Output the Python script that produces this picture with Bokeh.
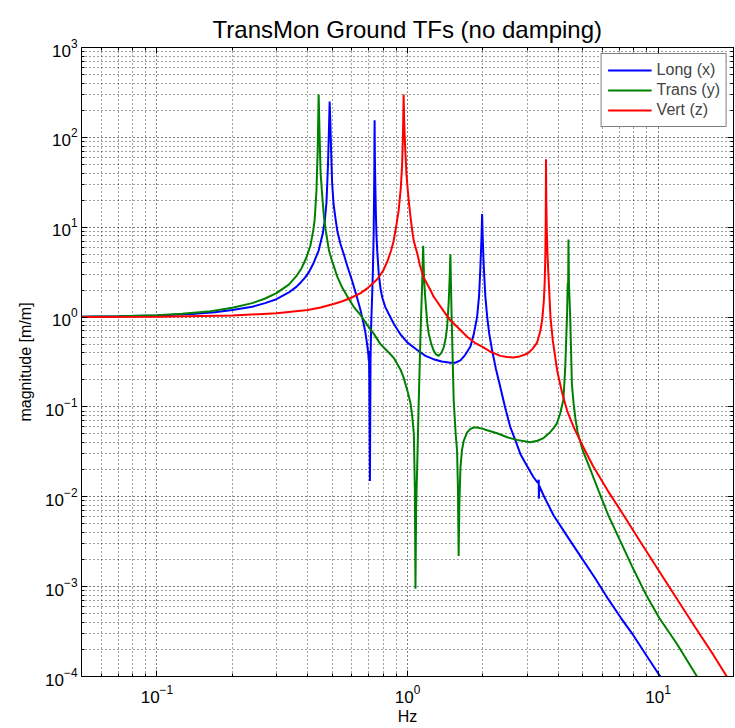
from bokeh.plotting import figure
from bokeh.models import Range1d, LogAxis, FixedTicker, LogTickFormatter
from bokeh.embed import file_html
from bokeh.resources import INLINE

# ---------------- data ----------------
long_f = [0.05, 0.07, 0.1, 0.138, 0.17, 0.2, 0.24, 0.27, 0.3, 0.336, 0.36, 0.375, 0.39,
          0.403, 0.422, 0.442, 0.459, 0.468, 0.475, 0.481, 0.485, 0.489, 0.492, 0.495,
          0.5, 0.507, 0.517, 0.525, 0.54, 0.557, 0.575, 0.602, 0.631, 0.65, 0.668, 0.68,
          0.69, 0.698, 0.70, 0.702, 0.704, 0.708, 0.712, 0.716, 0.722, 0.728, 0.733,
          0.737, 0.739, 0.741, 0.744, 0.748, 0.752, 0.757, 0.768, 0.78, 0.793, 0.815,
          0.842, 0.88, 0.938, 1.0, 1.093, 1.18, 1.269, 1.37, 1.483, 1.55, 1.627, 1.7,
          1.783, 1.84, 1.895, 1.93, 1.953, 1.975, 1.985, 1.995, 2.016, 2.045, 2.08,
          2.12, 2.175, 2.25, 2.347, 2.45, 2.57, 2.7, 2.82, 3.0, 3.185, 3.3, 3.33, 3.34,
          3.345, 3.355, 3.5, 3.83, 4.35, 4.89, 5.6, 6.32, 7.1, 7.95, 9.0, 10.2, 11.0]
long_m = [1.01, 1.02, 1.04, 1.08, 1.13, 1.2, 1.3, 1.43, 1.58, 1.88, 2.17, 2.43, 2.75,
          3.12, 4.0, 5.5, 8.5, 12, 19, 45, 100, 250, 150, 80,
          32, 18, 12, 9.0, 6.5, 5.0, 3.7, 2.5, 1.6, 1.18, 0.85, 0.66,
          0.5, 0.38, 0.33, 0.42, 0.2, 0.015, 0.35, 0.8, 1.6, 3.5, 9.0,
          40, 155, 60, 30, 14, 8.0, 5.5, 3.0, 2.1, 1.65, 1.3,
          1.08, 0.85, 0.64, 0.52, 0.43, 0.37, 0.34, 0.32, 0.31, 0.31, 0.33, 0.38,
          0.47, 0.65, 1.0, 1.7, 3.5, 8.0, 14, 8.0, 3.6, 1.7, 1.0,
          0.65, 0.43, 0.27, 0.166, 0.1, 0.06, 0.042, 0.03, 0.022, 0.0165, 0.0145, 0.0142, 0.0155,
          0.0095, 0.0133, 0.0102, 0.0062, 0.0036, 0.0022, 0.00125, 0.00073, 0.00045, 0.00029,
          0.00017, 0.0001, 0.00008]

trans_f = [0.05, 0.07, 0.1, 0.126, 0.16, 0.2, 0.24, 0.269, 0.3, 0.336, 0.36, 0.378,
           0.395, 0.41, 0.42, 0.426, 0.433, 0.438, 0.442, 0.446, 0.45, 0.457, 0.464,
           0.471, 0.486, 0.5, 0.525, 0.55, 0.575, 0.61, 0.65, 0.69, 0.734, 0.78, 0.83,
           0.882, 0.938, 0.966, 1.0, 1.028, 1.044, 1.06, 1.07, 1.076, 1.083, 1.093, 1.109,
           1.127, 1.144, 1.155, 1.165, 1.18, 1.2, 1.216, 1.245, 1.273, 1.3, 1.332, 1.365,
           1.395, 1.42, 1.439, 1.461, 1.475, 1.483, 1.49, 1.5, 1.506, 1.529, 1.557, 1.577,
           1.59, 1.6, 1.61, 1.627, 1.65, 1.676, 1.73, 1.783, 1.84, 1.895, 2.0, 2.08,
           2.277, 2.5, 2.73, 3.09, 3.3, 3.49, 3.7, 3.83, 3.95, 4.07, 4.19, 4.26, 4.33,
           4.36, 4.375, 4.39, 4.41, 4.46, 4.53, 4.6, 4.67, 4.77, 5.0, 5.41, 5.8, 6.32,
           7.0, 7.86, 9.0, 10.1, 11.9, 14.3, 15.0]
trans_m = [1.01, 1.02, 1.05, 1.09, 1.15, 1.27, 1.43, 1.6, 1.85, 2.3, 2.85, 3.5,
           4.6, 6.3, 9.0, 12, 25, 70, 300, 100, 40, 22, 13,
           9.5, 5.5, 4.2, 2.8, 2.1, 1.7, 1.3, 1.05, 0.82, 0.65, 0.5, 0.42,
           0.35, 0.26, 0.21, 0.15, 0.11, 0.08, 0.05, 0.012, 0.00095, 0.008, 0.021, 0.118,
           0.65, 2.3, 6.2, 2.5, 1.5, 0.85, 0.65, 0.5, 0.42, 0.385, 0.37, 0.4,
           0.46, 0.58, 0.77, 1.5, 3.0, 5.0, 2.5, 1.0, 0.65, 0.118, 0.05, 0.0327,
           0.012, 0.0022, 0.008, 0.0213, 0.033, 0.042, 0.052, 0.057, 0.059, 0.059, 0.057, 0.055,
           0.051, 0.046, 0.043, 0.0405, 0.042, 0.045, 0.052, 0.058, 0.066, 0.085, 0.12, 0.27, 1.0,
           2.4, 2.0, 7.3, 2.3, 1.0, 0.18, 0.11, 0.077, 0.053, 0.033, 0.019, 0.0115, 0.0063,
           0.0034, 0.0017, 0.00079, 0.00045, 0.00023, 0.0001, 0.00008]

vert_f = [0.05, 0.1, 0.2, 0.3, 0.4, 0.45, 0.507, 0.55, 0.593, 0.65, 0.693, 0.73, 0.759,
          0.8, 0.832, 0.86, 0.88, 0.9, 0.921, 0.94, 0.952, 0.96, 0.965, 0.97, 0.978,
          0.99, 1.0, 1.015, 1.028, 1.045, 1.06, 1.08, 1.096, 1.12, 1.158, 1.2, 1.235,
          1.269, 1.3, 1.37, 1.43, 1.483, 1.6, 1.734, 1.85, 2.008, 2.15, 2.347, 2.5, 2.64,
          2.8, 3.007, 3.15, 3.29, 3.39, 3.45, 3.5, 3.53, 3.55, 3.562, 3.57, 3.58, 3.595,
          3.62, 3.65, 3.68, 3.72, 3.8, 3.96, 4.15, 4.34, 4.6, 4.93, 5.5, 6.32, 7.3, 8.47,
          10.0, 11.9, 14.0, 16.6, 18.8, 20.0]
vert_m = [1.0, 1.01, 1.04, 1.1, 1.2, 1.28, 1.4, 1.5, 1.63, 1.85, 2.1, 2.4, 2.65,
          3.3, 4.2, 5.5, 7.0, 10, 15, 27, 50, 120, 300, 150, 80,
          40, 28, 18, 13, 9.0, 7.0, 5.8, 5.0, 3.8, 2.8, 2.3, 2.0,
          1.7, 1.55, 1.25, 1.05, 0.92, 0.75, 0.6, 0.52, 0.46, 0.41, 0.37, 0.36, 0.355,
          0.365, 0.39, 0.44, 0.52, 0.7, 0.95, 1.5, 2.5, 5.0, 12, 57, 20, 10,
          5.0, 3.0, 1.9, 1.0, 0.55, 0.25, 0.14, 0.09, 0.06, 0.04, 0.022, 0.0115, 0.0062, 0.0032,
          0.00155, 0.00073, 0.00036, 0.000175, 0.0001, 0.00008]

x_major = [0.1, 1, 10]
x_minor = [0.05, 0.06, 0.07, 0.08, 0.09, 0.2, 0.3, 0.4, 0.5, 0.6, 0.7, 0.8, 0.9,
           2, 3, 4, 5, 6, 7, 8, 9, 20]
y_major = [1e-4, 1e-3, 1e-2, 1e-1, 1e0, 1e1, 1e2, 1e3]
y_minor = [k * d for d in [1e-4, 1e-3, 1e-2, 1e-1, 1e0, 1e1, 1e2] for k in range(2, 10)]

FONT = "Liberation Sans"

p = figure(width=735, height=728, x_axis_type="log", y_axis_type="log",
           x_range=Range1d(0.05, 20), y_range=Range1d(1e-4, 1e3),
           output_backend="svg", toolbar_location=None,
           min_border_left=81, min_border_right=2, min_border_top=47, min_border_bottom=52,
           title="TransMon Ground TFs (no damping)")
p.background_fill_color = "white"
p.border_fill_color = "white"
p.outline_line_color = "black"
p.outline_line_width = 1

p.title.text_font = FONT
p.title.text_font_size = "24px"
p.title.text_font_style = "normal"
p.title.align = "center"
p.title.text_color = "black"

xt = FixedTicker(ticks=x_major, minor_ticks=x_minor)
yt = FixedTicker(ticks=y_major, minor_ticks=y_minor)

for ax, tk in ((p.xaxis[0], xt), (p.yaxis[0], yt)):
    ax.ticker = tk
    ax.formatter = LogTickFormatter()
    ax.major_label_text_font = FONT
    ax.major_label_text_font_size = "17px"
    ax.major_label_text_color = "black"
    ax.axis_label_text_font = FONT
    ax.axis_label_text_font_size = "16px"
    ax.axis_label_text_font_style = "normal"
    ax.axis_label_text_color = "black"
    ax.major_tick_in = 6
    ax.major_tick_out = 0
    ax.minor_tick_in = 3
    ax.minor_tick_out = 0
    ax.axis_line_color = "black"
    ax.major_tick_line_color = "black"
    ax.minor_tick_line_color = "black"

p.xaxis[0].axis_label = "Hz"
p.xaxis[0].major_label_standoff = 8
p.xaxis[0].axis_label_standoff = 2
p.yaxis[0].axis_label = "magnitude [m/m]"
p.yaxis[0].major_label_standoff = 4
p.yaxis[0].axis_label_standoff = 8

for loc, tk in (("above", xt), ("right", yt)):
    ax = LogAxis(ticker=tk, major_label_text_font_size="1px", major_label_text_alpha=0,
                 major_tick_in=6, major_tick_out=0, minor_tick_in=3, minor_tick_out=0,
                 major_label_standoff=0, axis_line_color="black")
    p.add_layout(ax, loc)

for g, tk in ((p.xgrid[0], xt), (p.ygrid[0], yt)):
    g.ticker = tk
    g.grid_line_color = "black"
    g.grid_line_alpha = 1.0
    g.grid_line_dash = "1 3"
    g.minor_grid_line_color = "black"
    g.minor_grid_line_alpha = 0.75
    g.minor_grid_line_dash = "1 3"

p.line(long_f, long_m, line_color="#0000ff", line_width=2, legend_label="Long (x)")
p.line(trans_f, trans_m, line_color="#008000", line_width=2, legend_label="Trans (y)")
p.line(vert_f, vert_m, line_color="#ff0000", line_width=2, legend_label="Vert (z)")

lg = p.legend[0]
lg.location = "top_right"
lg.margin = 6
lg.padding = 6
lg.spacing = 0
lg.glyph_width = 44
lg.glyph_height = 20
lg.label_height = 20
lg.label_standoff = 5
lg.label_text_font = FONT
lg.label_text_font_size = "16px"
lg.border_line_color = "black"
lg.border_line_width = 1
lg.background_fill_color = "white"
lg.background_fill_alpha = 1.0

open("out.html", "w").write(file_html(p, INLINE))
